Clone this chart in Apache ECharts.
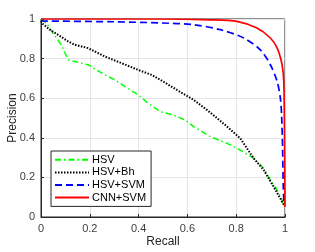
<!DOCTYPE html>
<html><head><meta charset="utf-8">
<script src="https://cdn.jsdelivr.net/npm/echarts@6/dist/echarts.min.js"></script>
<style>html,body{margin:0;padding:0;background:#fff}#c{width:315px;height:252px}</style>
</head><body><div id="c"></div>
<script>
var xTicks = [0, 0.2, 0.4, 0.6, 0.8, 1];
var yTicks = [0, 0.2, 0.4, 0.6, 0.8, 1];
var seriesNames = ['HSV', 'HSV+Bh', 'HSV+SVM', 'CNN+SVM'];

var hsvRecall    = [0, 0.022, 0.049, 0.083, 0.111, 0.118, 0.166, 0.193, 0.261, 0.303, 0.344, 0.398, 0.439, 0.489, 0.543, 0.591, 0.626, 0.694, 0.763, 0.817, 0.872, 0.913, 0.940, 0.968, 0.988, 0.995];
var hsvPrecision = [1.0, 0.98, 0.929, 0.87, 0.794, 0.785, 0.777, 0.769, 0.718, 0.693, 0.659, 0.617, 0.575, 0.532, 0.515, 0.49, 0.456, 0.406, 0.372, 0.338, 0.296, 0.246, 0.186, 0.136, 0.085, 0.06];

var bhRecall    = [0, 0.008, 0.036, 0.070, 0.111, 0.138, 0.193, 0.261, 0.330, 0.398, 0.453, 0.501, 0.557, 0.626, 0.680, 0.722, 0.763, 0.817, 0.872, 0.913, 0.954, 0.996];
var bhPrecision = [0.99, 0.975, 0.946, 0.92, 0.887, 0.87, 0.853, 0.811, 0.777, 0.743, 0.718, 0.684, 0.642, 0.591, 0.541, 0.499, 0.456, 0.397, 0.296, 0.237, 0.152, 0.06];

var svmRecall    = [0, 0.3, 0.489, 0.626, 0.735, 0.831, 0.899, 0.940, 0.968, 0.981, 0.986, 0.990, 0.993, 0.996];
var svmPrecision = [0.99, 0.986, 0.98, 0.971, 0.946, 0.904, 0.844, 0.769, 0.684, 0.600, 0.516, 0.35, 0.15, 0.06];

var cnnRecall    = [0, 0.489, 0.694, 0.803, 0.885, 0.940, 0.968, 0.988, 0.995, 0.998, 1.0];
var cnnPrecision = [1.0, 1.0, 0.996, 0.988, 0.954, 0.904, 0.853, 0.769, 0.684, 0.4, 0.05];

function zip(a, b) { return a.map(function (v, i) { return [v, b[i]]; }); }

var chart = echarts.init(document.getElementById('c'), null, {renderer: 'canvas'});
var font = 'Liberation Sans, Arial, sans-serif';
chart.setOption({
  animation: false,
  backgroundColor: '#fff',
  grid: {left: 41, right: 30, top: 19, bottom: 35, show: true, borderColor: '#262626', borderWidth: 1,
    containLabel: false, outerBoundsMode: 'none'},
  xAxis: {
    type: 'value', min: 0, max: 1, interval: 0.2,
    name: 'Recall', nameLocation: 'middle', nameGap: 19, nameMoveOverlap: false,
    nameTextStyle: {fontFamily: font, fontSize: 12, color: '#262626'},
    axisLine: {show: true, lineStyle: {color: '#262626'}},
    axisTick: {show: true, inside: true, length: 3, lineStyle: {color: '#262626'}},
    axisLabel: {fontFamily: font, fontSize: 11, color: '#404040', margin: 6,
      formatter: function (v) { return xTicks.indexOf(+v.toFixed(1)) >= 0 ? String(+v.toFixed(1)) : ''; }},
    splitLine: {show: true, lineStyle: {color: '#e5e5e5'}}
  },
  yAxis: {
    type: 'value', min: 0, max: 1, interval: 0.2,
    name: 'Precision', nameLocation: 'middle', nameGap: 22, nameMoveOverlap: false,
    nameTextStyle: {fontFamily: font, fontSize: 12, color: '#262626'},
    axisLine: {show: true, lineStyle: {color: '#262626'}},
    axisTick: {show: true, inside: true, length: 3, lineStyle: {color: '#262626'}},
    axisLabel: {fontFamily: font, fontSize: 11, color: '#404040', margin: 6,
      formatter: function (v) { return yTicks.indexOf(+v.toFixed(1)) >= 0 ? String(+v.toFixed(1)) : ''; }},
    splitLine: {show: true, lineStyle: {color: '#e5e5e5'}}
  },
  legend: {
    orient: 'vertical', left: 51, top: 151,
    data: seriesNames,
    itemWidth: 34, itemHeight: 12, itemGap: 1, padding: [3, 5, 3, 3],
    backgroundColor: '#fff', borderColor: '#262626', borderWidth: 1, borderRadius: 0,
    itemStyle: {opacity: 0},
    textStyle: {fontFamily: font, fontSize: 11, color: '#000', padding: [0, 0, 0, -2]}
  },
  series: [
    {name: seriesNames[0], type: 'line', showSymbol: false, data: zip(hsvRecall, hsvPrecision), z: 2,
      lineStyle: {color: '#00ff00', width: 1.5, type: [6, 3, 1.5, 3]}, itemStyle: {color: '#00ff00'}},
    {name: seriesNames[1], type: 'line', showSymbol: false, data: zip(bhRecall, bhPrecision), z: 3,
      lineStyle: {color: '#000', width: 2, type: [1.5, 1.5]}, itemStyle: {color: '#000'}},
    {name: seriesNames[2], type: 'line', showSymbol: false, data: zip(svmRecall, svmPrecision), z: 4, smooth: 0.3,
      lineStyle: {color: '#0000ff', width: 1.7, type: [7, 4]}, itemStyle: {color: '#0000ff'}},
    {name: seriesNames[3], type: 'line', showSymbol: false, data: zip(cnnRecall, cnnPrecision), z: 5, smooth: 0.3,
      lineStyle: {color: '#ff0000', width: 1.7}, itemStyle: {color: '#ff0000'}}
  ]
});
</script></body></html>
